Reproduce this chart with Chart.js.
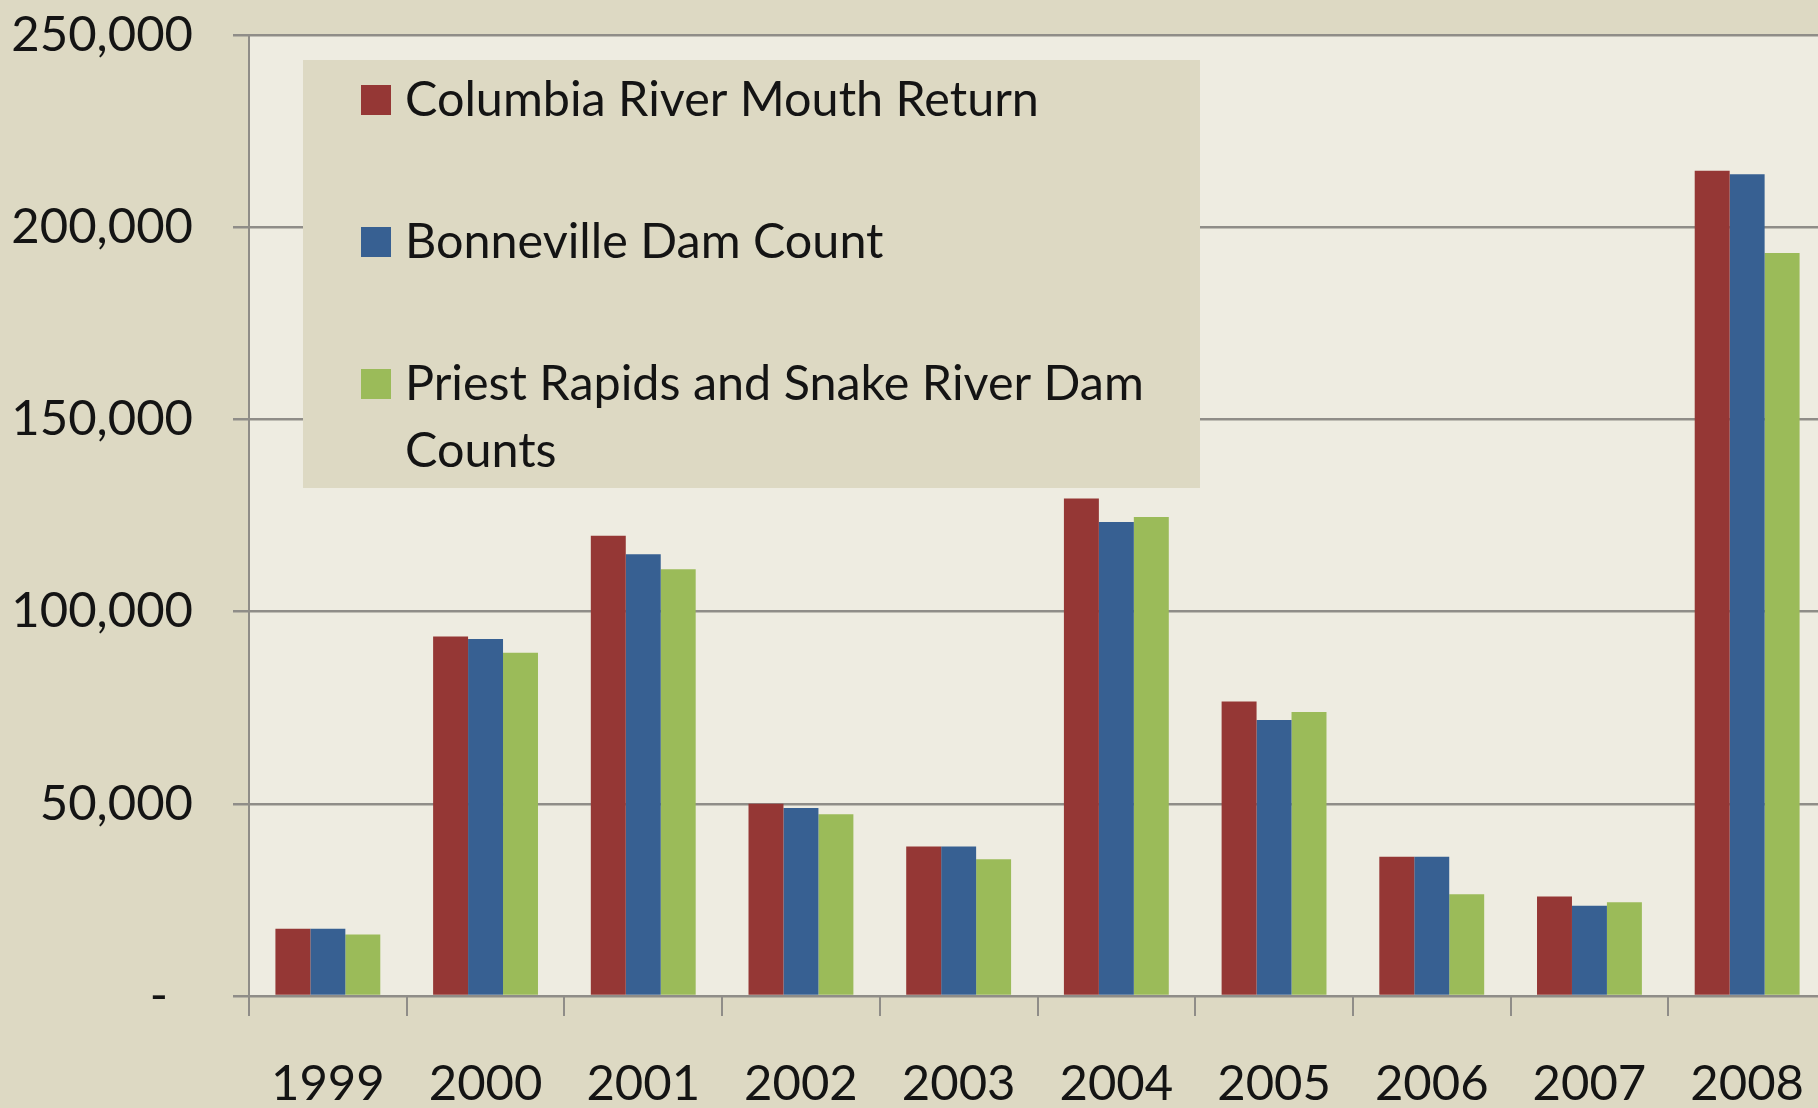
<!DOCTYPE html>
<html>
<head>
<meta charset="utf-8">
<script src="https://cdn.jsdelivr.net/npm/chart.js@4/dist/chart.umd.min.js"></script>
<style>
  html, body { margin: 0; padding: 0; background: #ddd9c3; overflow: hidden; }
  #wrap { width: 1818px; height: 1108px; overflow: hidden; }
</style>
</head>
<body>
<div id="wrap"><canvas id="myChart" width="1826" height="1108"></canvas></div>
<script>
const years = ['1999', '2000', '2001', '2002', '2003', '2004', '2005', '2006', '2007', '2008'];

const seriesNames = [
  'Columbia River Mouth Return',
  'Bonneville Dam Count',
  'Priest Rapids and Snake River Dam Counts',
];

// rough estimates
const mouthReturn = [17500, 93500, 119700, 50000, 38900, 129400, 76600, 36200, 25900, 214700];
const bonnevilleCount = [17500, 92900, 114900, 48900, 38900, 123300, 71800, 36200, 23500, 213800];
const upriverCounts = [16000, 89300, 111000, 47300, 35600, 124600, 73900, 26500, 24400, 193300];

const yMax = 250000;
const yStep = 50000;

const fontFamily = 'Lato, "Open Sans", sans-serif';
const textColor = '#141414';
const gridColor = '#8f8d88';

// plot area background
const plotBg = {
  id: 'plotBg',
  beforeDraw(chart) {
    const { ctx, chartArea } = chart;
    ctx.save();
    ctx.fillStyle = '#eeece1';
    ctx.fillRect(chartArea.left, chartArea.top, chartArea.right - chartArea.left, chartArea.bottom - chartArea.top);
    ctx.restore();
  }
};

// legend box drawn inside the plot, like the original
const boxLegend = {
  id: 'boxLegend',
  afterDatasetsDraw(chart) {
    const { ctx, chartArea } = chart;
    const x = chartArea.left + 54;
    const y = chartArea.top + 25;
    const w = 897;
    const h = 428;
    ctx.save();
    ctx.fillStyle = '#ddd9c3';
    ctx.fillRect(x, y, w, h);

    ctx.font = '48.5px ' + fontFamily;
    ctx.textBaseline = 'middle';
    ctx.textAlign = 'left';
    const maxWidth = 770;

    chart.data.datasets.forEach((ds, i) => {
      const cy = y + 40 + i * 142;
      ctx.fillStyle = ds.backgroundColor;
      ctx.fillRect(x + 58, cy - 15, 30, 30);

      // simple word wrap
      const words = ds.label.split(' ');
      const lines = [];
      let line = '';
      words.forEach(word => {
        const test = line ? line + ' ' + word : word;
        if (ctx.measureText(test).width > maxWidth && line) {
          lines.push(line);
          line = word;
        } else {
          line = test;
        }
      });
      lines.push(line);

      ctx.fillStyle = textColor;
      lines.forEach((l, j) => {
        ctx.fillText(l, x + 102, cy + j * 67);
      });
    });
    ctx.restore();
  }
};

const data = {
  labels: years,
  datasets: [
    {
      label: seriesNames[0],
      backgroundColor: '#953735',
      data: mouthReturn,
    },
    {
      label: seriesNames[1],
      backgroundColor: '#376092',
      data: bonnevilleCount,
    },
    {
      label: seriesNames[2],
      backgroundColor: '#9bbb59',
      data: upriverCounts,
    }
  ]
};

const config = {
  type: 'bar',
  data: data,
  options: {
    responsive: false,
    animation: false,
    layout: {
      padding: { top: 35, right: 0, bottom: 0, left: 0 }
    },
    datasets: {
      bar: {
        categoryPercentage: 0.665,
        barPercentage: 1.0,
      }
    },
    plugins: {
      legend: { display: false },
      tooltip: { enabled: false },
    },
    scales: {
      x: {
        grid: {
          offset: true,
          drawOnChartArea: false,
          color: gridColor,
          lineWidth: 2,
          tickLength: 20,
        },
        border: { color: gridColor, width: 2 },
        ticks: {
          color: textColor,
          font: { family: fontFamily, size: 49 },
          padding: 39,
          maxRotation: 0,
        },
        afterFit(scale) {
          scale.height = 112;
          scale.paddingLeft = 0;
          scale.paddingRight = 0;
        }
      },
      y: {
        min: 0,
        max: yMax,
        grid: {
          color: gridColor,
          lineWidth: 2.5,
          tickLength: 16,
        },
        border: { color: gridColor, width: 2 },
        ticks: {
          stepSize: yStep,
          color: textColor,
          font: { family: fontFamily, size: 49 },
          padding: 40,
          callback: (v) => v === 0 ? '-  ' : v.toLocaleString('en-US'),
        },
        afterFit(scale) {
          scale.width = 249;
          scale.paddingTop = 0;
          scale.paddingBottom = 0;
        }
      }
    }
  },
  plugins: [plotBg, boxLegend]
};

const myChart = new Chart(document.getElementById('myChart'), config);
</script>
</body>
</html>
